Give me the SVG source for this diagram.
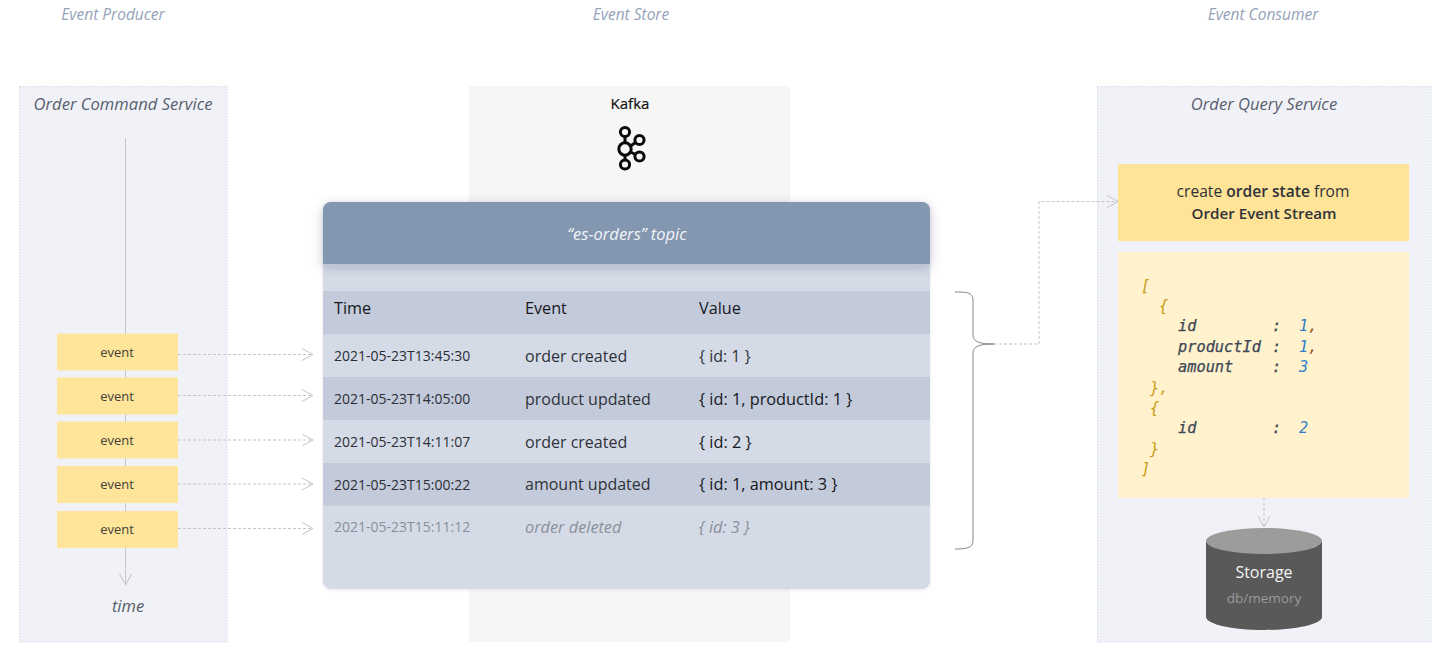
<svg xmlns="http://www.w3.org/2000/svg" width="1447" height="655" viewBox="0 0 1447 655">
<defs>
<style>
text{font-family:"Open Sans","Noto Sans",sans-serif;}
.panel{fill:#f0f2f7;stroke:#d5dbe8;stroke-width:1;stroke-dasharray:1.5 1.5;}
.ev{fill:#ffe599;}
.evt{font-size:13px;fill:#44413a;text-anchor:middle;}
.head{font-size:15.5px;font-style:italic;fill:#94a2b9;text-anchor:middle;}
.title{font-size:16.600px;font-style:italic;fill:#59606e;text-anchor:middle;}
.conn{fill:none;stroke:#c3c5c9;stroke-width:1;stroke-dasharray:3 2;}
.tl{fill:none;stroke:#c6c8cd;stroke-width:1;}
.h{font-size:16.200px;fill:#15181f;}
.d{font-size:14px;fill:#2b2e36;}
.e{font-size:16px;fill:#2f323a;}
.v{font-size:16.300px;fill:#15181f;}
.dd{font-size:14px;fill:#8a8f9b;}
.de{font-size:16.300px;font-style:italic;fill:#8a8f9b;}
.m{font-family:"DejaVu Sans Mono","Liberation Mono",monospace;font-size:15.300px;font-style:italic;}
.b{fill:#c99a14;}.k{fill:#3c4656;stroke:#3c4656;stroke-width:0.25;}.n{fill:#2f7fc9;}.c{fill:#96501e;}
</style>
<filter id="sh" x="-5%" y="-10%" width="110%" height="130%"><feDropShadow dx="0" dy="3" stdDeviation="6" flood-color="#1f2a44" flood-opacity="0.22"/></filter>
<filter id="sh2" x="-3%" y="-3%" width="106%" height="106%"><feDropShadow dx="0" dy="1" stdDeviation="1.500" flood-color="#1f2a44" flood-opacity="0.1"/></filter>
<marker id="arr" markerUnits="userSpaceOnUse" markerWidth="16" markerHeight="16" refX="13" refY="8" orient="auto"><path d="M2 2 L13 8 L2 14" fill="none" stroke="#c3c5c9" stroke-width="1"/></marker>
</defs>
<rect width="1447" height="655" fill="#fff"/>
<text class="head" x="113" y="20">Event Producer</text>
<text class="head" x="631" y="20">Event Store</text>
<text class="head" x="1263" y="20">Event Consumer</text>
<g id="order-command-service">
<rect class="panel" x="19.5" y="86.5" width="207.5" height="555.5"/>
<text class="title" x="123" y="110">Order Command Service</text>
<text x="128" y="611.500" font-size="16.500" font-style="italic" fill="#555a66" text-anchor="middle">time</text>
</g>
<g id="kafka">
<rect x="469" y="86" width="321" height="556" fill="#f6f6f6"/>
<text x="630" y="109" font-size="15" fill="#111" stroke="#111" stroke-width="0.2" text-anchor="middle">Kafka</text>
<g fill="none" stroke="#0a0a0a" stroke-width="3">
<circle cx="625" cy="132" r="4.6"/><circle cx="625" cy="149" r="6.2"/><circle cx="625" cy="164.500" r="4.6"/><circle cx="639.500" cy="140" r="4.600"/><circle cx="639.500" cy="156.500" r="4.600"/>
<path d="M625 136.500V143M625 155V160M630.500 146L635.500 142.500M630.500 152L635.500 154.500"/>
</g>
</g>
<g id="order-query-service">
<rect class="panel" x="1097.5" y="86.500" width="333.500" height="555.500"/>
<text class="title" x="1264" y="110">Order Query Service</text>
</g>
<g id="topic">
<rect x="323" y="202" width="607" height="387" rx="8" fill="#d5dbe6" filter="url(#sh2)"/>
<rect x="323" y="291" width="607" height="43" fill="#c3cad9"/>
<rect x="323" y="377" width="607" height="43" fill="#c3cad9"/>
<rect x="323" y="463" width="607" height="42.500" fill="#c3cad9"/>
<path d="M323 264V210a8 8 0 0 1 8-8H922a8 8 0 0 1 8 8V264Z" fill="#8497b0" filter="url(#sh)"/>
<text x="627" y="240" font-size="16.500" font-style="italic" fill="#f2f4f8" text-anchor="middle">“es-orders” topic</text>
<text class="h" x="334" y="314">Time</text><text class="h" x="525" y="314">Event</text><text class="h" x="699" y="314">Value</text>
<text class="d" x="334" y="361">2021-05-23T13:45:30</text><text class="e" x="525" y="362">order created</text><text class="e" x="699" y="362">{ id: 1 }</text>
<text class="d" x="334" y="404">2021-05-23T14:05:00</text><text class="e" x="525" y="405">product updated</text><text class="v" x="699" y="405">{ id: 1, productId: 1 }</text>
<text class="d" x="334" y="447">2021-05-23T14:11:07</text><text class="e" x="525" y="448">order created</text><text class="v" x="699" y="448">{ id: 2 }</text>
<text class="d" x="334" y="490">2021-05-23T15:00:22</text><text class="e" x="525" y="490">amount updated</text><text class="v" x="699" y="490">{ id: 1, amount: 3 }</text>
<text class="dd" x="334" y="532">2021-05-23T15:11:12</text><text class="de" x="525" y="533">order deleted</text><text class="de" x="699" y="533">{ id: 3 }</text>
</g>
<g id="connectors">
<path class="tl" d="M125.500 138V585" marker-end="url(#arr)"/>
<path class="conn" d="M178 354.500H313" marker-end="url(#arr)"/>
<path class="conn" d="M178 395.500H313" marker-end="url(#arr)"/>
<path class="conn" d="M178 440H313" marker-end="url(#arr)"/>
<path class="conn" d="M178 484H313" marker-end="url(#arr)"/>
<path class="conn" d="M178 528.500H313" marker-end="url(#arr)"/>
<path class="conn" d="M994 344H1039V201.500H1118" marker-end="url(#arr)"/>
<path class="conn" d="M1264 498V527" marker-end="url(#arr)"/>
<path d="M955 292C966 292 973 292 973 300V335C973 342 980 344 994 344C980 344 973 346 973 353V541C973 548 966 549 955 549" fill="none" stroke="#77797e" stroke-width="0.9"/>
</g>
<g id="event-1"><rect class="ev" x="57" y="333.500" width="121" height="37"/><text class="evt" x="117" y="357">event</text></g>
<g id="event-2"><rect class="ev" x="57" y="377.500" width="121" height="37"/><text class="evt" x="117" y="401">event</text></g>
<g id="event-3"><rect class="ev" x="57" y="421.500" width="121" height="37"/><text class="evt" x="117" y="445">event</text></g>
<g id="event-4"><rect class="ev" x="57" y="466" width="121" height="37"/><text class="evt" x="117" y="489">event</text></g>
<g id="event-5"><rect class="ev" x="57" y="511" width="121" height="37"/><text class="evt" x="117" y="534">event</text></g>
<g id="order-state">
<rect x="1118" y="164" width="291" height="77" fill="#ffe396"/>
<text x="1263" y="197" font-size="15.600" fill="#2f323a" text-anchor="middle">create <tspan font-weight="600">order state</tspan> from</text>
<text x="1264" y="219" font-size="15.200" font-weight="600" fill="#2f323a" text-anchor="middle">Order Event Stream</text>
</g>
<g id="state-json">
<rect x="1118" y="252" width="291" height="246" fill="#fff2cc"/>
<text class="m b" x="1141" y="291">[</text>
<text class="m b" x="1159" y="311">{</text>
<text class="m k" x="1178" y="331">id</text><text class="m k" x="1272" y="331">:</text><text class="m n" x="1299" y="331">1<tspan class="c">,</tspan></text>
<text class="m k" x="1178" y="352">productId</text><text class="m k" x="1272" y="352">:</text><text class="m n" x="1299" y="352">1<tspan class="c">,</tspan></text>
<text class="m k" x="1178" y="372">amount</text><text class="m k" x="1272" y="372">:</text><text class="m n" x="1299" y="372">3</text>
<text class="m b" x="1150" y="393">},</text>
<text class="m b" x="1150" y="413">{</text>
<text class="m k" x="1178" y="433">id</text><text class="m k" x="1272" y="433">:</text><text class="m n" x="1299" y="433">2</text>
<text class="m b" x="1150" y="454">}</text>
<text class="m b" x="1141" y="474">]</text>
</g>
<g id="storage">
<path d="M1206 541V617C1206 624 1232 630 1264 630S1322 624 1322 617V541Z" fill="#595959"/>
<ellipse cx="1264" cy="541" rx="58" ry="13" fill="#9c9c9c"/>
<text x="1264" y="578" font-size="16" font-weight="500" fill="#f5f5f5" text-anchor="middle">Storage</text>
<text x="1264" y="603" font-size="13.500" fill="#9a9a9a" text-anchor="middle">db/memory</text>
</g>
</svg>
